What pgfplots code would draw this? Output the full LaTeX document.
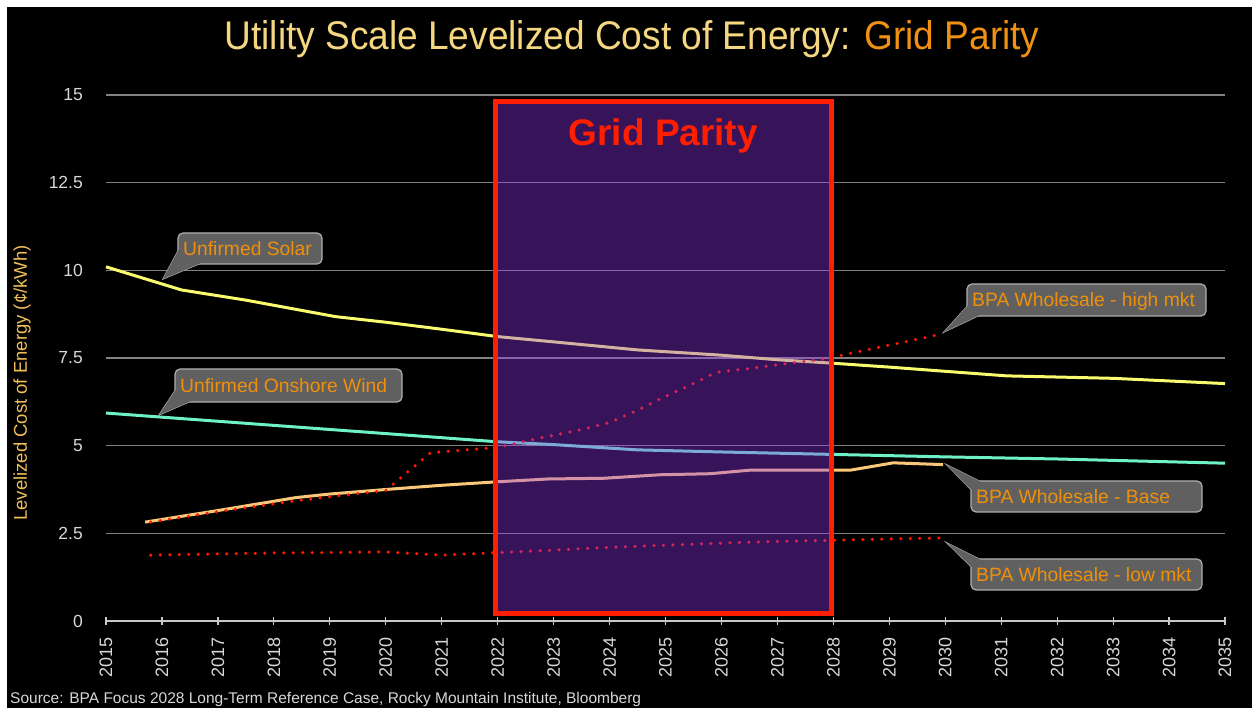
\documentclass[border=0pt]{standalone}
\usepackage{pgfplots}
\pgfplotsset{compat=1.18}
\usepackage{fontspec}
\setmainfont{Liberation Sans}
\usepackage{graphicx}
\definecolor{solarY}{RGB}{250,250,110}
\definecolor{windC}{RGB}{110,240,200}
\definecolor{baseO}{RGB}{250,200,120}
\definecolor{dotR}{RGB}{255,25,0}
\definecolor{gridR}{RGB}{255,30,0}
\definecolor{boxP}{RGB}{150,55,245}
\definecolor{titleA}{RGB}{245,215,130}
\definecolor{titleB}{RGB}{240,145,20}
\definecolor{callT}{RGB}{240,144,10}
\definecolor{callF}{RGB}{96,96,96}
\definecolor{callD}{RGB}{175,175,175}
\definecolor{tickL}{RGB}{215,215,215}
\definecolor{gridG}{RGB}{130,130,130}
\definecolor{axisG}{RGB}{200,200,200}
\definecolor{ylabC}{RGB}{240,190,90}
\newcommand{\callout}[9]{%
  \filldraw[fill=callF, draw=callD, line width=1.2pt] #5 -- #6 -- #7 -- cycle;
  \filldraw[fill=callF, draw=callD, line width=1.2pt, rounded corners=5pt] (#1,#2) rectangle (#3,#4);
  \fill[callF] #5 -- #6 -- #7 -- cycle;
  \node[anchor=base west, inner sep=0pt, text=callT, font=\fontsize{19.3}{21}\selectfont] at (#1+5,{(#2+#4)/2-6.9}) {#8};
}
\begin{document}
\begin{tikzpicture}[x=1pt,y=1pt]
\fill[white] (0,0) rectangle (1253,708);
\fill[black] (7,0) rectangle (1252,701);
\begin{axis}[
  at={(106pt,87pt)}, anchor=south west,
  scale only axis, width=1119pt, height=526pt,
  xmin=2015, xmax=2035, ymin=0, ymax=15,
  clip=false,
  separate axis lines,
  axis x line*=bottom, axis y line*=left,
  x axis line style={draw=axisG, line width=1.5pt, -},
  y axis line style={draw=none},
  xtick={2015,2016,...,2035},
  ytick={0,2.5,5,7.5,10,12.5,15},
  yticklabels={0,2.5,5,7.5,10,12.5,15},
  /pgf/number format/assume math mode=true,
  /pgf/number format/1000 sep={},
  xticklabel={\pgfmathprintnumber[1000 sep={},assume math mode=true]{\tick}},
  xtick style={draw=axisG, line width=1.2pt},
  ytick style={draw=none},
  major tick length=8pt, tick align=center,
  ymajorgrids, grid style={draw=gridG, line width=1.2pt},
  xticklabel style={yshift=-12pt, rotate=90, anchor=east, inner sep=0pt, text=tickL, font=\fontsize{18}{20}\selectfont},
  yticklabel style={xshift=-19pt, anchor=east, inner sep=0pt, text=tickL, font=\fontsize{17.5}{20}\selectfont},
]
% Solar
\addplot[solarY, line width=3pt, no markers] coordinates {
(2015,10.1) (2016.35,9.44) (2017.5,9.15) (2019.1,8.68) (2020,8.52) (2021,8.32) (2022,8.11) (2023,7.96) (2024.5,7.73) (2025,7.68) (2026,7.58) (2027,7.45) (2028,7.35) (2029,7.24) (2030,7.12) (2031.1,6.99) (2033,6.92) (2035,6.77)};
% Wind
\addplot[windC, line width=3pt, no markers] coordinates {
(2015,5.93) (2022,5.11) (2023,5.03) (2024.5,4.88) (2026,4.82) (2028,4.75) (2030,4.68) (2032,4.62) (2035,4.5)};
% Base
\addplot[baseO, line width=3pt, no markers] coordinates {
(2015.7,2.82) (2017,3.15) (2018.4,3.52) (2019,3.62) (2020,3.75) (2021,3.87) (2022,3.97) (2022.9,4.05) (2023.9,4.07) (2024.9,4.17) (2025.8,4.2) (2026.5,4.3) (2028.3,4.3) (2029.07,4.51) (2029.96,4.46)};
% High mkt
\addplot[dotR, line width=3.5pt, line cap=round, dash pattern=on 0pt off 9.5pt, no markers] coordinates {
(2015.8,2.82) (2017,3.12) (2018.5,3.45) (2020,3.72) (2020.8,4.8) (2022,4.95) (2022.8,5.23) (2023.5,5.46) (2024,5.66) (2024.5,6.01) (2024.95,6.37) (2025.45,6.73) (2025.9,7.09) (2026.6,7.22) (2027.3,7.37) (2027.8,7.46) (2028.3,7.63) (2029.9,8.17)};
% Low mkt
\addplot[dotR, line width=3.5pt, line cap=round, dash pattern=on 0pt off 9.5pt, no markers] coordinates {
(2015.8,1.88) (2018,1.94) (2020,1.97) (2021,1.88) (2022,1.95) (2023,2.02) (2024,2.1) (2025,2.16) (2026,2.22) (2027,2.27) (2028,2.3) (2029,2.34) (2030,2.37)};
% Grid parity overlay
\fill[boxP, fill opacity=0.37] (axis cs:2021.96,0.22) rectangle (axis cs:2027.97,14.82);
\draw[gridR, line width=5pt] (axis cs:2021.96,0.22) rectangle (axis cs:2027.97,14.82);
\node[anchor=base, inner sep=0pt, text=gridR, font=\bfseries\fontsize{37}{40}\selectfont] at (axis cs:2024.96,13.57) {Grid Parity};
\end{axis}
% Title
\node[anchor=base, inner sep=0pt] at (632,658.5) {\resizebox{815pt}{\height}{\fontsize{40}{44}\selectfont\color{titleA}Utility Scale Levelized Cost of Energy: \color{titleB}Grid Parity}};
% Y label
\node[rotate=90, inner sep=0pt, text=ylabC, font=\fontsize{18.5}{20}\selectfont] at (22,325) {Levelized Cost of Energy (¢/kWh)};
% Source
\node[anchor=base west, inner sep=0pt, text=tickL, font=\fontsize{15.5}{17}\selectfont] at (10,4) {Source: BPA Focus 2028 Long-Term Reference Case, Rocky Mountain Institute, Bloomberg};
% Callouts
\callout{178}{444}{322}{475}{(163,429)}{(178.5,458)}{(200,444.5)}{Unfirmed Solar}{}
\callout{175}{306}{402}{339}{(159,293)}{(175.5,318)}{(190,306.5)}{Unfirmed Onshore Wind}{}
\callout{967}{392}{1206}{424}{(944,376)}{(967.5,402)}{(979,392.5)}{BPA Wholesale - high mkt}{}
\callout{971}{196}{1202}{227}{(947,243)}{(980,226.5)}{(971.5,218)}{BPA Wholesale - Base}{}
\callout{971}{118}{1202}{149}{(947,165)}{(980,148.5)}{(971.5,141)}{BPA Wholesale - low mkt}{}
\end{tikzpicture}
\end{document}
